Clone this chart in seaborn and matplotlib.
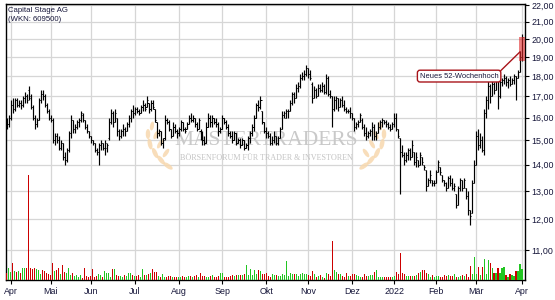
import numpy as np
import pandas as pd
import matplotlib
matplotlib.use("Agg")
import matplotlib.pyplot as plt
import matplotlib.transforms as mtrans
import seaborn as sns
from matplotlib.patches import Ellipse, Rectangle
from matplotlib.ticker import FixedLocator, NullLocator

# ---------------- data ----------------
title = "Capital Stage AG"
subtitle = "(WKN: 609500)"
month_labels = ["Apr", "Mai", "Jun", "Jul", "Aug", "Sep", "Okt", "Nov", "Dez", "2022", "Feb", "Mär", "Apr"]
price_ticks = [11, 12, 13, 14, 15, 16, 17, 18, 19, 20, 21, 22]
holidays = ["2021-04-02", "2021-04-05", "2021-05-24", "2021-12-24", "2021-12-31"]
annotation_text = "Neues 52-Wochenhoch"

opens = [
    15.9, 15.7, 16.0, 16.6, 16.4, 16.8, 16.6, 16.7, 16.6, 16.9,
    17.0, 17.3, 17.0, 16.5, 16.0, 15.7, 15.9, 16.8, 17.1, 17.0,
    16.6, 16.3, 16.0, 15.9, 15.0, 15.2, 15.0, 14.7, 14.9, 14.3,
    14.2, 14.6, 15.3, 15.9, 15.5, 15.6, 15.8, 15.9, 16.1, 15.9,
    15.6, 15.4, 15.2, 15.0, 14.9, 14.6, 14.5, 14.8, 14.9, 14.7,
    14.7, 15.1, 15.8, 16.2, 15.8, 16.0, 15.4, 15.2, 15.4, 15.5,
    15.4, 15.7, 16.0, 16.3, 16.2, 16.4, 16.3, 16.2, 16.5, 16.6,
    16.5, 16.7, 16.4, 16.7, 16.4, 15.8, 15.3, 15.4, 14.9, 15.1,
    15.9, 15.8, 15.5, 15.2, 15.6, 15.4, 15.3, 15.5, 15.8, 15.5,
    15.5, 15.7, 16.0, 15.9, 16.0, 15.7, 15.5, 15.4, 15.1, 15.0,
    14.9, 15.6, 16.0, 15.8, 16.0, 15.8, 15.7, 15.4, 15.5, 16.0,
    15.8, 15.6, 15.3, 15.2, 15.0, 15.3, 14.9, 15.0, 14.8, 15.0,
    14.7, 14.8, 15.1, 15.3, 15.6, 16.0, 16.6, 16.5, 16.3, 15.8,
    15.4, 15.3, 15.2, 14.9, 15.0, 15.2, 14.9, 15.1, 15.5, 16.1,
    16.0, 16.3, 16.3, 16.7, 17.1, 16.9, 17.4, 17.5, 17.9, 18.0,
    18.1, 18.4, 18.1, 17.6, 16.9, 17.3, 17.0, 17.4, 17.3, 17.5,
    17.2, 17.9, 17.1, 17.0, 16.4, 16.8, 16.9, 16.5, 16.8, 16.6,
    16.4, 16.3, 16.3, 16.2, 16.0, 15.6, 15.7, 15.8, 15.9, 15.6,
    15.3, 15.2, 15.3, 15.4, 15.6, 15.2, 15.3, 15.6, 15.8, 15.9,
    15.8, 15.7, 15.6, 15.5, 15.7, 16.0, 15.5, 15.1, 14.5, 14.4,
    14.2, 14.4, 14.6, 14.3, 14.5, 14.1, 14.2, 14.0, 14.3, 14.0,
    13.8, 13.2, 13.4, 13.4, 13.3, 13.3, 13.7, 13.9, 13.6, 13.4,
    13.3, 13.1, 13.5, 13.3, 13.1, 12.9, 12.5, 13.1, 13.4, 13.1,
    13.1, 12.8, 12.3, 12.2, 13.3, 14.0, 15.2, 14.8, 15.0, 14.6,
    16.2, 16.8, 17.5, 17.0, 17.6, 17.3, 17.8, 17.0, 17.7, 17.8,
    17.9, 17.7, 17.8, 17.6, 17.8, 18.0, 17.9, 18.2, 19.0,
]
highs = [
    16.0, 16.1, 16.8, 16.9, 16.9, 16.9, 16.8, 16.8, 17.0, 17.2,
    17.1, 17.5, 17.1, 16.6, 16.1, 16.0, 16.9, 17.3, 17.3, 17.1,
    16.7, 16.4, 16.1, 16.0, 15.3, 15.3, 15.2, 15.0, 14.9, 14.5,
    14.7, 15.4, 16.1, 15.9, 15.7, 15.9, 16.0, 16.3, 16.2, 15.9,
    15.7, 15.4, 15.2, 15.0, 14.9, 14.7, 14.9, 15.0, 14.9, 15.0,
    14.9, 16.0, 16.4, 16.3, 16.4, 16.0, 15.5, 15.5, 15.7, 15.6,
    15.8, 16.1, 16.4, 16.6, 16.5, 16.5, 16.4, 16.6, 16.8, 16.7,
    17.0, 16.7, 16.8, 16.8, 16.4, 15.8, 15.5, 15.4, 15.1, 16.1,
    16.0, 15.9, 15.5, 15.8, 15.7, 15.5, 15.6, 15.9, 15.8, 15.6,
    15.8, 16.1, 16.2, 16.1, 16.0, 15.8, 16.0, 15.5, 15.4, 15.2,
    15.8, 16.2, 16.1, 16.1, 16.0, 16.0, 15.8, 15.6, 16.1, 16.0,
    15.9, 15.7, 15.4, 15.4, 15.4, 15.3, 15.1, 15.1, 15.1, 15.0,
    14.9, 15.2, 15.4, 15.7, 16.1, 16.7, 16.8, 17.0, 16.3, 15.8,
    15.6, 15.4, 15.3, 15.2, 15.4, 15.2, 15.2, 15.6, 16.3, 16.3,
    16.4, 16.4, 16.8, 17.2, 17.2, 17.6, 17.7, 18.1, 18.2, 18.3,
    18.6, 18.4, 18.3, 17.7, 17.5, 17.4, 17.6, 17.6, 17.7, 17.6,
    18.1, 18.0, 17.3, 17.0, 17.0, 17.0, 16.9, 16.9, 17.0, 16.8,
    16.5, 16.4, 16.5, 16.2, 16.0, 15.8, 15.9, 16.2, 16.0, 15.7,
    15.6, 15.4, 15.5, 15.8, 15.7, 15.4, 15.8, 15.9, 16.0, 15.9,
    15.9, 15.8, 15.7, 15.8, 16.2, 16.2, 15.5, 15.1, 14.8, 14.5,
    14.5, 14.7, 14.7, 15.0, 14.5, 14.5, 14.2, 14.5, 14.3, 14.0,
    13.8, 13.5, 13.8, 13.4, 13.4, 13.8, 14.2, 13.9, 13.6, 13.4,
    13.35, 13.55, 13.6, 13.5, 13.3, 12.9, 13.2, 13.5, 13.4, 13.5,
    13.1, 13.0, 12.3, 13.4, 14.2, 15.4, 15.5, 15.3, 15.2, 16.4,
    17.0, 17.8, 17.6, 17.9, 17.7, 18.0, 17.8, 17.9, 17.9, 18.1,
    18.0, 17.9, 18.0, 17.9, 18.1, 18.0, 18.3, 19.3, 20.3,
]
lows = [
    15.5, 15.6, 15.9, 16.2, 16.3, 16.5, 16.5, 16.4, 16.5, 16.7,
    16.7, 16.8, 16.4, 15.9, 15.5, 15.6, 15.9, 16.7, 16.8, 16.5,
    16.2, 15.9, 15.8, 14.9, 14.8, 14.9, 14.6, 14.6, 14.2, 14.0,
    14.1, 14.5, 15.1, 15.3, 15.3, 15.5, 15.6, 15.8, 15.8, 15.5,
    15.3, 15.1, 14.9, 14.8, 14.5, 14.4, 14.0, 14.6, 14.6, 14.4,
    14.5, 15.0, 15.7, 15.6, 15.8, 15.2, 15.0, 15.1, 15.2, 15.2,
    15.4, 15.6, 15.8, 16.0, 16.1, 16.2, 16.1, 16.2, 16.3, 16.3,
    16.5, 16.2, 16.3, 16.4, 15.8, 15.1, 15.2, 14.8, 14.7, 15.0,
    15.7, 15.4, 15.1, 15.2, 15.3, 15.1, 15.2, 15.4, 15.4, 15.3,
    15.5, 15.7, 15.8, 15.8, 15.6, 15.4, 15.5, 15.0, 14.8, 14.8,
    14.9, 15.6, 15.6, 15.6, 15.7, 15.6, 15.2, 15.3, 15.5, 15.7,
    15.5, 15.2, 15.1, 14.9, 15.0, 14.8, 14.9, 14.7, 14.8, 14.6,
    14.7, 14.6, 14.9, 15.2, 15.4, 16.0, 16.3, 16.4, 15.7, 15.3,
    15.1, 15.1, 14.8, 14.8, 14.9, 14.8, 14.8, 15.1, 15.5, 16.0,
    16.0, 16.0, 16.3, 16.6, 16.7, 16.9, 17.2, 17.4, 17.8, 17.8,
    18.0, 17.9, 17.8, 16.7, 16.9, 16.9, 17.0, 17.2, 17.2, 17.1,
    17.1, 17.0, 16.9, 15.6, 16.3, 16.4, 16.3, 16.5, 16.5, 16.3,
    16.2, 16.2, 16.0, 15.9, 15.4, 15.5, 15.6, 15.8, 15.5, 15.2,
    15.0, 15.1, 15.2, 15.0, 15.0, 15.0, 15.3, 15.5, 15.6, 15.7,
    15.6, 15.5, 15.4, 15.5, 15.6, 15.4, 15.1, 12.9, 14.3, 14.0,
    14.1, 14.2, 14.2, 14.3, 14.0, 13.9, 13.9, 14.0, 14.0, 13.8,
    13.0, 13.2, 13.3, 13.2, 13.2, 13.3, 13.7, 13.6, 13.35, 13.2,
    13.0, 13.1, 13.2, 13.05, 13.0, 12.4, 12.5, 13.0, 13.0, 13.1,
    12.7, 12.15, 11.8, 12.2, 13.3, 14.0, 14.6, 14.7, 14.5, 14.4,
    16.0, 16.4, 16.7, 17.0, 17.1, 17.3, 16.4, 16.9, 17.5, 17.6,
    17.5, 17.4, 17.5, 17.6, 17.6, 16.8, 17.9, 18.2, 18.8,
]
closes = [
    15.7, 16.0, 16.6, 16.4, 16.8, 16.6, 16.7, 16.6, 16.9, 17.0,
    16.8, 16.9, 16.5, 16.0, 15.7, 15.9, 16.8, 17.1, 17.0, 16.6,
    16.3, 16.0, 15.9, 15.0, 15.2, 15.0, 14.7, 14.9, 14.3, 14.2,
    14.6, 15.3, 15.9, 15.5, 15.6, 15.8, 15.9, 16.2, 15.9, 15.6,
    15.4, 15.2, 15.0, 14.9, 14.6, 14.5, 14.8, 14.9, 14.7, 14.9,
    14.8, 15.8, 16.2, 15.8, 16.2, 15.4, 15.2, 15.4, 15.5, 15.4,
    15.7, 16.0, 16.3, 16.2, 16.4, 16.3, 16.2, 16.5, 16.6, 16.4,
    16.8, 16.4, 16.7, 16.5, 15.9, 15.3, 15.4, 14.9, 15.0, 15.9,
    15.8, 15.5, 15.2, 15.6, 15.4, 15.3, 15.5, 15.8, 15.5, 15.4,
    15.7, 16.0, 15.9, 16.0, 15.7, 15.5, 15.9, 15.1, 15.0, 14.9,
    15.6, 16.0, 15.8, 16.0, 15.8, 15.7, 15.4, 15.5, 16.0, 15.8,
    15.6, 15.3, 15.2, 15.0, 15.3, 14.9, 15.0, 14.8, 15.0, 14.7,
    14.8, 15.1, 15.3, 15.6, 16.0, 16.6, 16.5, 16.8, 15.8, 15.4,
    15.3, 15.2, 14.9, 15.0, 15.2, 14.9, 15.1, 15.5, 16.1, 16.2,
    16.3, 16.3, 16.7, 17.1, 16.9, 17.4, 17.5, 17.9, 18.0, 18.1,
    18.4, 18.1, 17.9, 16.9, 17.3, 17.0, 17.4, 17.3, 17.5, 17.2,
    17.9, 17.1, 17.0, 16.4, 16.8, 16.9, 16.5, 16.8, 16.6, 16.4,
    16.3, 16.3, 16.2, 16.0, 15.6, 15.7, 15.8, 16.1, 15.6, 15.3,
    15.2, 15.3, 15.4, 15.6, 15.2, 15.3, 15.6, 15.8, 15.9, 15.8,
    15.7, 15.6, 15.5, 15.7, 16.0, 15.5, 15.2, 14.5, 14.4, 14.2,
    14.4, 14.6, 14.3, 14.8, 14.1, 14.3, 14.0, 14.4, 14.1, 13.9,
    13.2, 13.4, 13.6, 13.3, 13.3, 13.7, 14.1, 13.7, 13.4, 13.3,
    13.1, 13.5, 13.3, 13.1, 13.2, 12.5, 13.1, 13.4, 13.1, 13.4,
    12.8, 12.3, 12.1, 13.3, 14.0, 15.2, 14.8, 15.0, 14.6, 16.2,
    16.8, 17.5, 17.0, 17.6, 17.3, 17.8, 17.0, 17.7, 17.8, 17.9,
    17.7, 17.8, 17.6, 17.8, 18.0, 17.9, 18.2, 19.0, 20.1,
]
# volume in units of 10,000 shares
volume = [
    7, 12, 8, 17, 9, 8, 9, 7, 12, 12,
    12, 105, 12, 11, 12, 11, 10, 6, 10, 9,
    7, 6, 5, 17, 9, 10, 12, 6, 15, 8,
    7, 12, 5, 7, 4, 5, 3, 5, 2, 12,
    4, 3, 4, 11, 3, 4, 6, 5, 3, 9,
    7, 7, 3, 11, 11, 5, 4, 4, 3, 5,
    4, 7, 7, 5, 4, 4, 5, 3, 11, 5,
    5, 6, 7, 11, 8, 8, 4, 3, 6, 3,
    3, 4, 4, 3, 3, 3, 3, 3, 4, 3,
    3, 4, 4, 3, 4, 5, 3, 7, 4, 4,
    3, 3, 4, 5, 3, 3, 4, 7, 7, 3,
    3, 3, 4, 5, 4, 5, 5, 5, 5, 6,
    15, 5, 11, 5, 10, 6, 10, 9, 6, 6,
    7, 4, 3, 6, 5, 5, 4, 4, 6, 5,
    19, 4, 7, 6, 6, 6, 4, 6, 7, 6,
    6, 5, 4, 9, 6, 3, 4, 5, 3, 2,
    7, 6, 4, 39, 10, 8, 6, 6, 4, 3,
    7, 4, 4, 6, 6, 5, 4, 3, 3, 6,
    4, 4, 5, 5, 8, 10, 3, 3, 3, 3,
    3, 3, 3, 3, 4, 8, 6, 27, 7, 6,
    4, 4, 4, 4, 4, 5, 7, 8, 10, 10,
    7, 6, 3, 5, 3, 4, 4, 3, 3, 5,
    4, 5, 4, 4, 6, 3, 3, 4, 5, 4,
    6, 3, 14, 6, 23, 6, 13, 5, 13, 21,
    6, 20, 17, 12, 7, 7, 12, 7, 12, 13,
    5, 3, 6, 5, 4, 9, 9, 16, 11,
]

# ---------------- frame ----------------
dates = pd.bdate_range("2021-03-30", "2022-04-01")
dates = dates[~dates.isin(pd.to_datetime(holidays))]
df = pd.DataFrame({"date": dates, "open": opens, "high": highs,
                   "low": lows, "close": closes, "volume": volume})
df["x"] = np.arange(len(df))
df["up"] = df["close"] >= df["open"]
month_idx = [i for i in range(1, len(df)) if df["date"][i].month != df["date"][i - 1].month]
N = len(df)

# ---------------- style ----------------
sns.set_theme(style="white")
plt.rcParams["font.family"] = ["Liberation Sans", "DejaVu Sans"]
TXT = "#16163a"

fig = plt.figure(figsize=(5.55, 3.0), dpi=100)
fig.patch.set_facecolor("white")
ax = fig.add_axes([6 / 555, 20 / 300, 519 / 555, 276 / 300])
ax.set_facecolor("white")
ax.set_yscale("log")
ax.set_ylim(10.1, 22.08)
ax.set_xlim(-0.4, 259.5)

# volume on a twin axis (created first so that the price ticks can go right afterwards)
ax2 = ax.twinx()
ax2.bar(df["x"], df["volume"], width=0.55,
        color=np.where(df["up"], "#22c522", "#cc0000"), linewidth=0, zorder=2)
ax2.set_ylim(0, 276)
ax2.set_xlim(ax.get_xlim())
ax2.set_axis_off()

# grid and ticks
ax.yaxis.set_major_locator(FixedLocator(price_ticks))
ax.yaxis.set_minor_locator(NullLocator())
ax.set_yticklabels([f"{v:.2f}".replace(".", ",") for v in price_ticks])
ax.set_xticks(month_idx)
ax.set_xticklabels(month_labels)
ax.grid(True, color="#d6d6d6", lw=0.9, zorder=0)
ax.set_axisbelow(True)
ax.yaxis.tick_right()
ax.yaxis.set_label_position("right")
ax.tick_params(axis="y", which="major", direction="out", length=3, width=0.8,
               labelsize=6.4, pad=1.5, colors="black", labelcolor=TXT,
               right=True, left=False, labelright=True, labelleft=False)
ax.tick_params(axis="x", which="major", direction="out", length=3, width=0.8,
               labelsize=6.4, pad=2, colors="black", labelcolor=TXT, bottom=True)
for s in ax.spines.values():
    s.set_visible(True)
    s.set_color("black")
    s.set_linewidth(1.0)

# watermark
def fx(px):
    return (px - 6) / 519

def fy(py):
    return (280 - py) / 276

ax.text(fx(266), fy(140.5), "MASTERTRADERS", transform=ax.transAxes, ha="center", va="center",
        fontsize=15.5, family="Liberation Serif", color="#c9c9c9", zorder=1)
ax.text(fx(266.5), fy(157.5), "BÖRSENFORUM FÜR TRADER & INVESTOREN", transform=ax.transAxes,
        ha="center", va="center", fontsize=5.9, family="Liberation Serif", color="#c4c4c4", zorder=1)
leaf_color = "#f7d8ae"
leaves = [(168, 166, 4.5, 11, 55), (161, 160, 4.5, 11, 40), (155, 153, 4.5, 11, 25),
          (150, 144, 4.5, 11, 12), (148, 134, 4.5, 10, 0), (166, 153, 4, 10, -35),
          (160, 144, 4, 10, -30), (156, 135, 4, 9, -25), (152, 126, 4, 9, -10)]
ident = mtrans.IdentityTransform()
for (px, py, w, h, ang) in leaves:
    for mx, ma in ((px, ang), (532 - px, -ang)):
        e = Ellipse((mx, 300 - py), w, h, angle=ma, transform=ident,
                    facecolor=leaf_color, edgecolor="none", alpha=0.85, zorder=1)
        ax.add_patch(e)

# OHLC bars
ax.vlines(df["x"], df["low"], df["high"], color="black", lw=0.85, zorder=3)
ax.hlines(df["open"], df["x"] - 0.55, df["x"], color="black", lw=0.7, zorder=3)
ax.hlines(df["close"], df["x"], df["x"] + 0.55, color="black", lw=0.7, zorder=3)

# 52-week-high highlight
ax.add_patch(Rectangle((N - 2.5, df["low"].iloc[-1]), 3.0, df["close"].iloc[-1] - df["low"].iloc[-1],
                       facecolor="#e02a2a", alpha=0.6, edgecolor="none", zorder=4))
ax.annotate(annotation_text, xy=(N - 2, df["close"].iloc[-2] + 0.28), xytext=(226.5, 18.0),
            textcoords="data", ha="center", va="center", fontsize=5.4, color=TXT, zorder=6,
            bbox=dict(boxstyle="round,pad=0.32,rounding_size=0.35", fc="white", ec="#a8141a", lw=1.0),
            arrowprops=dict(arrowstyle="-", color="#a8141a", lw=1.0, relpos=(1.0, 0.95),
                            shrinkA=0, shrinkB=0))

# title
fig.text(8 / 555, 1 - 7 / 300, title, ha="left", va="top", fontsize=5.6, color=TXT)
fig.text(8 / 555, 1 - 16 / 300, subtitle, ha="left", va="top", fontsize=5.6, color=TXT)

fig.savefig("out.png", dpi=100, facecolor="white")
